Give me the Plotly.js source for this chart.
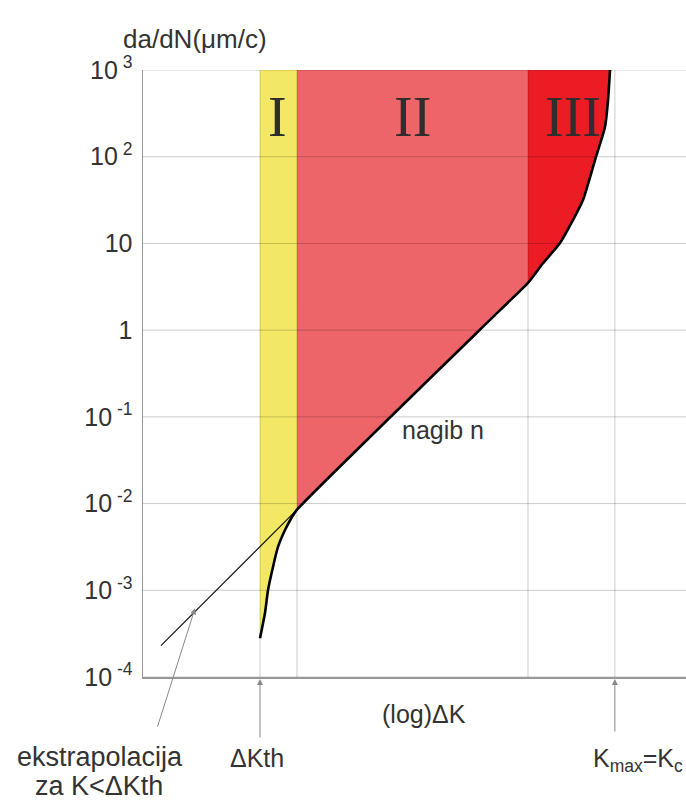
<!DOCTYPE html>
<html>
<head>
<meta charset="utf-8">
<script src="https://cdn.plot.ly/plotly-3.0.1.min.js"></script>
<style>html,body{margin:0;padding:0;background:#fff}#chart{width:686px;height:800px}</style>
</head>
<body>
<div id="chart"></div>
<script>
// ---- data (x: log ΔK in arbitrary units, y: da/dN in µm/cycle) ----
const curveX = [2.155, 2.247, 2.302, 2.394, 2.486, 2.615, 2.744, 2.836, 6.575, 7.090, 7.366, 7.680, 7.900, 8.103, 8.343, 8.508, 8.564, 8.601];
const curveY = [2.8e-4, 5.5e-4, 1.0e-3, 1.86e-3, 3.16e-3, 4.95e-3, 7.0e-3, 8.5e-3, 1.7, 3.5, 5.9, 10.1, 17.7, 31.6, 100, 220, 450, 1000];
const extrapX = [0.331, 2.836];
const extrapY = [2.3e-4, 8.5e-3];
const dKth = 2.155, stage2Start = 2.836, stage3Start = 7.090, Kc = 8.69;
const xGridVals = [dKth, stage2Start, stage3Start, Kc];
const yTickVals = [1e-4, 1e-3, 1e-2, 1e-1, 1, 10, 100, 1000];
const yTickText = ['10<sup> -4</sup>', '10<sup> -3</sup>', '10<sup> -2</sup>', '10<sup> -1</sup>', '1', '10', '10<sup> 2</sup>', '10<sup> 3</sup>'];
const regionLabels = ['I', 'II', 'III'];
const regionLabelX = [2.486, 4.954, 7.919];
const yTop = 1000, yBottom = 1e-4, xMin = 0, xMax = 10;

// ---- build polygons from curve ----
const i2 = curveX.indexOf(stage2Start);
const i3 = curveX.indexOf(stage3Start);
const yellow = {
  x: curveX.slice(0, i2 + 1).concat([stage2Start, dKth]),
  y: curveY.slice(0, i2 + 1).concat([yTop, yTop])
};
const pink = {
  x: curveX.slice(i2, i3 + 1).concat([stage3Start, stage2Start]),
  y: curveY.slice(i2, i3 + 1).concat([yTop, yTop])
};
const red = {
  x: curveX.slice(i3).concat([stage3Start]),
  y: curveY.slice(i3).concat([yTop])
};
const gx = [], gy = [];
yTickVals.forEach(v => { gx.push(xMin, xMax, null); gy.push(v, v, null); });
xGridVals.forEach(v => { gx.push(v, v, null); gy.push(yBottom, yTop, null); });

const fillTrace = (p, c) => ({x: p.x, y: p.y, type: 'scatter', mode: 'lines', fill: 'toself', fillcolor: c, line: {width: 0}, hoverinfo: 'skip', showlegend: false});
const traces = [
  fillTrace(yellow, '#f3e865'),
  fillTrace(pink, '#ee6569'),
  fillTrace(red, '#ec1c24'),
  {x: gx, y: gy, type: 'scatter', mode: 'lines', line: {color: 'rgba(0,0,0,0.2)', width: 1}, hoverinfo: 'skip', showlegend: false},
  {x: extrapX, y: extrapY, type: 'scatter', mode: 'lines', line: {color: '#111', width: 1.2}, showlegend: false},
  {x: curveX, y: curveY, type: 'scatter', mode: 'lines', line: {color: '#000', width: 2.6, shape: 'spline', smoothing: 0.6}, showlegend: false}
];

const F = 'Liberation Sans, Arial, sans-serif';
const toPaperY = px => (677 - px) / 607;
const txt = (o) => Object.assign({showarrow: false, xanchor: 'center', yanchor: 'middle', font: {family: F, size: 25, color: '#333'}}, o);
const big = {family: F, size: 27, color: '#333'};
const annotations = [];
regionLabels.forEach((t, i) => annotations.push(txt({x: regionLabelX[i], y: toPaperY(117), xref: 'x', yref: 'paper', text: t, font: {family: 'Liberation Serif, Times New Roman, serif', size: 56, color: '#2e2e2e'}})));
annotations.push(
  txt({x: 5.525, y: toPaperY(430), xref: 'x', yref: 'paper', text: 'nagib n'}),
  txt({x: (195 - 143) / 543, y: toPaperY(39), xref: 'paper', yref: 'paper', text: 'da/dN(μm/c)', font: {family: F, size: 26, color: '#333'}}),
  txt({x: 5.175, y: toPaperY(714), xref: 'x', yref: 'paper', text: '(log)ΔK'}),
  txt({x: 2.10, y: toPaperY(758), xref: 'x', yref: 'paper', text: 'ΔKth'}),
  txt({x: 9.116, y: toPaperY(760), xref: 'x', yref: 'paper', text: 'K<sub>max</sub>=K<sub>c</sub>'}),
  txt({x: (100 - 143) / 543, y: toPaperY(757), xref: 'paper', yref: 'paper', text: 'ekstrapolacija', font: big}),
  txt({x: (99 - 143) / 543, y: toPaperY(786), xref: 'paper', yref: 'paper', text: 'za K<ΔKth', font: big}),
  {x: dKth, y: toPaperY(679), xref: 'x', yref: 'paper', text: '', showarrow: true, ax: 0, ay: 60, arrowhead: 2, arrowsize: 1.2, arrowwidth: 1, arrowcolor: '#888'},
  {x: Kc, y: toPaperY(679), xref: 'x', yref: 'paper', text: '', showarrow: true, ax: 0, ay: 54, arrowhead: 2, arrowsize: 1.2, arrowwidth: 1, arrowcolor: '#888'},
  {x: 0.958, y: Math.log10(6.2e-4), xref: 'x', yref: 'y', text: '', showarrow: true, ax: -38, ay: 120, arrowhead: 2, arrowsize: 1.2, arrowwidth: 1, arrowcolor: '#888'}
);

const layout = {
  width: 686, height: 800,
  margin: {l: 143, r: 0, t: 70, b: 123},
  paper_bgcolor: '#fff', plot_bgcolor: '#fff',
  showlegend: false,
  xaxis: {range: [xMin, xMax], showgrid: false, zeroline: false, showticklabels: false, ticks: '', showline: true, linecolor: '#999', linewidth: 1.5, mirror: false},
  yaxis: {type: 'log', range: [-4, 3], tickvals: yTickVals, ticktext: yTickText, showgrid: false, zeroline: false, ticks: '', showline: true, linecolor: '#999', linewidth: 1.5, ticklabelstandoff: 4, tickfont: {family: F, size: 25, color: '#333'}},
  annotations: annotations
};
Plotly.newPlot('chart', traces, layout, {staticPlot: true});
</script>
</body>
</html>
